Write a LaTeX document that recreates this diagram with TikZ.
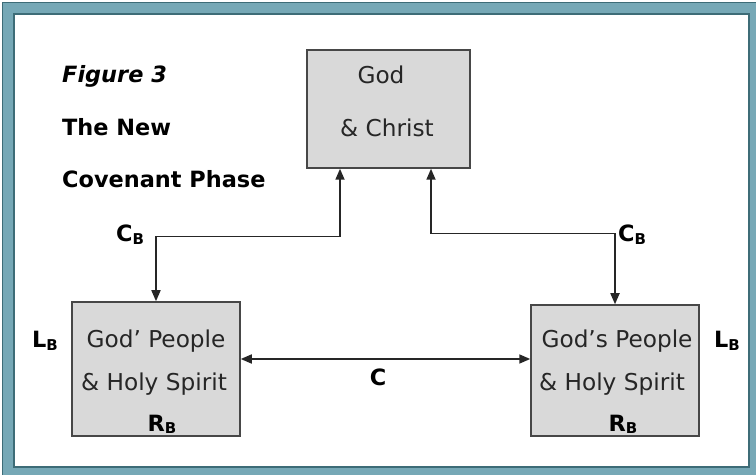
\documentclass[tikz,border=0pt]{standalone}
\usepackage{fontspec}
\setmainfont{DejaVu Sans}
\usetikzlibrary{arrows.meta,calc}
\definecolor{band}{HTML}{76A8B6}
\definecolor{bandedge}{HTML}{3D6C77}
\definecolor{boxfill}{HTML}{D9D9D9}
\definecolor{ink}{HTML}{262626}
\newcommand\subB[1]{\raisebox{-0.22ex}{\fontsize{15}{15}\selectfont #1}}
\begin{document}
\begin{tikzpicture}[x=1bp,y=-1bp,
  box/.style={draw=ink!85,line width=1.5bp,fill=boxfill,inner sep=0pt},
  conn/.style={draw=ink,line width=1.7bp,{Triangle[length=11bp,width=9bp]}-{Triangle[length=11bp,width=9bp]}},
  boxtext/.style={anchor=base,inner sep=0pt,font=\fontsize{23.3}{27}\selectfont,text=ink},
  lbl/.style={anchor=base,inner sep=0pt,font=\fontsize{22.5}{26}\selectfont\bfseries,text=black},
  title/.style={anchor=base west,inner sep=0pt,font=\fontsize{22.5}{26}\selectfont\bfseries,text=black}]
\useasboundingbox (0,0) rectangle (756,475);
% frame
\fill[white] (0,0) rectangle (756,475);
\fill[band] (2,2) rectangle (756,475);
\draw[bandedge,line width=1.2bp] (2.6,475) -- (2.6,2.6) -- (756,2.6);
\fill[white] (14,14) rectangle (749,467);
\draw[bandedge,line width=1.2bp] (14,14) rectangle (749,467);
% boxes
\node[box,minimum width=163bp,minimum height=118bp] (top) at (388.5,109) {};
\node[box,minimum width=168bp,minimum height=134bp] (lb) at (156,369) {};
\node[box,minimum width=168bp,minimum height=131bp] (rb) at (615,370.5) {};
% box texts
\node[boxtext] (t1) at (381,84) {God};
\node[boxtext] (t2) at (387,137) {\& Christ};
\node[boxtext] (l1) at (156,348) {God’ People};
\node[boxtext] (l2) at (154,390) {\& Holy Spirit};
\node[boxtext] (r1) at (617,348) {God’s People};
\node[boxtext] (r2) at (612,390) {\& Holy Spirit};
\node[lbl] (lr) at (162,431) {R\subB{B}};
\node[lbl] (rr) at (623,431) {R\subB{B}};
% titles
\node[title] (f3) at (62,83) {\itshape Figure 3};
\node[title] (tn) at (62,136) {The New};
\node[title] (cp) at (62,188) {Covenant Phase};
% labels
\node[lbl] (cbl) at (130,242) {C\subB{B}};
\node[lbl] (cbr) at (632,242) {C\subB{B}};
\node[lbl] (lbl1) at (45,348) {L\subB{B}};
\node[lbl] (lbl2) at (727,348) {L\subB{B}};
\node[lbl] (cc) at (378,385) {C};
% connectors
\coordinate (ta) at ([xshift=-48.5bp]top.south);
\coordinate (tb) at ([xshift=42.5bp]top.south);
\draw[conn] (ta) -- (ta |- 0,236.5) -| (lb.north);
\draw[conn] (tb) -- (tb |- 0,233.5) -| (rb.north);
\draw[conn] (lb.east |- 0,359) -- (rb.west |- 0,359);
\end{tikzpicture}
\end{document}
